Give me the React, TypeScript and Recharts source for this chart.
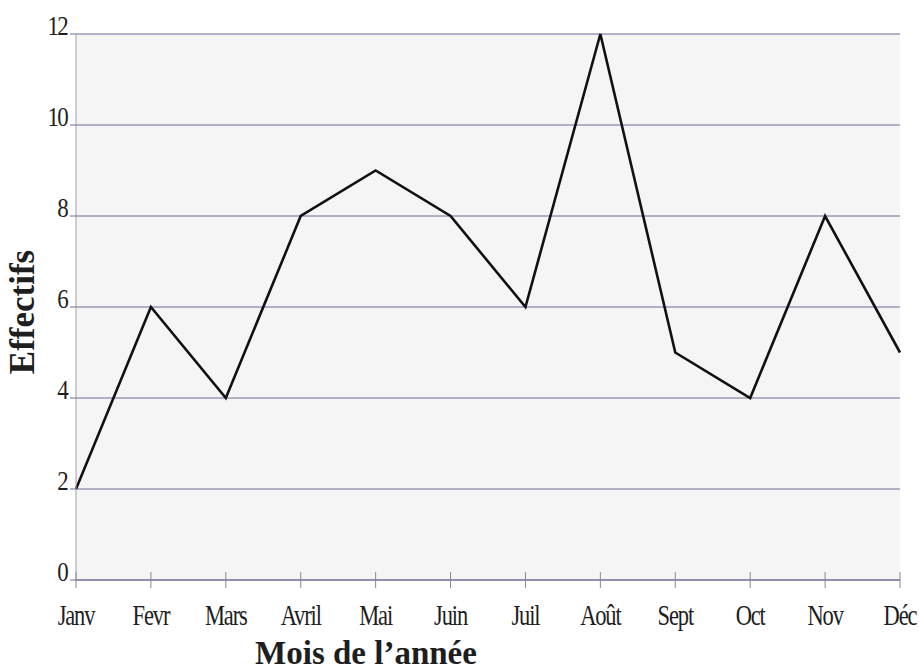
import React from 'react';
import { LineChart, Line, XAxis, YAxis, CartesianGrid, Label } from 'recharts';

const months = ['Janv', 'Fevr', 'Mars', 'Avril', 'Mai', 'Juin', 'Juil', 'Août', 'Sept', 'Oct', 'Nov', 'Déc'];
const effectifs = [2, 6, 4, 8, 9, 8, 6, 12, 5, 4, 8, 5];
const yTicks = [0, 2, 4, 6, 8, 10, 12];

const data = months.map((m, i) => ({ mois: m, effectifs: effectifs[i] }));

const FONT = '"Liberation Serif", "DejaVu Serif", serif';
const GRID = '#6e6a95';
const TEXT = '#1e1e1e';

const XTick = (props: any) => {
  const { x, y, payload } = props;
  const axisY = y - 8;
  return (
    <g>
      <line x1={x} x2={x} y1={axisY - 8} y2={axisY} stroke="#8a8a8a" strokeWidth={1} />
      <text
        transform={`translate(${x} ${axisY + 45}) scale(0.75 1)`}
        x={0}
        y={0}
        textAnchor="middle"
        fontFamily={FONT}
        fontSize={30}
        letterSpacing={-1.5}
        fill={TEXT}
      >
        {payload.value}
      </text>
    </g>
  );
};

const YTick = (props: any) => {
  const { x, y, payload } = props;
  return (
    <text
      transform={`translate(${x - 1} ${y + 1}) scale(0.85 1)`}
      x={0}
      y={0}
      textAnchor="end"
      fontFamily={FONT}
      fontSize={27}
      letterSpacing={-2}
      fill={TEXT}
    >
      {payload.value}
    </text>
  );
};

export default function App() {
  return (
    <div style={{ position: 'absolute', left: 0, top: 0, width: 919, height: 672, background: '#fff' }}>
      <LineChart width={919} height={672} data={data} margin={{ top: 34, right: 19, bottom: 0, left: 0 }}>
        <CartesianGrid horizontal vertical={false} stroke={GRID} strokeWidth={1} fill="#f5f5f5" />
        <XAxis
          dataKey="mois"
          height={92}
          interval={0}
          axisLine={{ stroke: GRID }}
          tickLine={{ stroke: '#8a8a8a' }}
          tickSize={8}
          tickMargin={0}
          tick={<XTick />}
        >
          <Label
            content={() => (
              <text x={366} y={664} textAnchor="middle" fontFamily={FONT} fontWeight="bold" fontSize={33} fill={TEXT}>
                Mois de l’année
              </text>
            )}
          />
        </XAxis>
        <YAxis
          width={76}
          domain={[0, 12]}
          ticks={yTicks}
          interval={0}
          axisLine={{ stroke: '#a0a0a0' }}
          tickLine={{ stroke: GRID }}
          tickSize={6}
          tickMargin={2}
          tick={<YTick />}
        >
          <Label
            content={(p: any) => {
              const vb = p.viewBox || { y: 34, height: 546 };
              const cy = vb.y + vb.height / 2 + 5;
              return (
                <text
                  x={34}
                  y={cy}
                  transform={`rotate(-90, 34, ${cy})`}
                  textAnchor="middle"
                  fontFamily={FONT}
                  fontWeight="bold"
                  fontSize={35}
                  fill={TEXT}
                >
                  Effectifs
                </text>
              );
            }}
          />
        </YAxis>
        <Line
          type="linear"
          dataKey="effectifs"
          stroke="#111"
          strokeWidth={2.6}
          dot={false}
          activeDot={false}
          isAnimationActive={false}
        />
      </LineChart>
    </div>
  );
}
